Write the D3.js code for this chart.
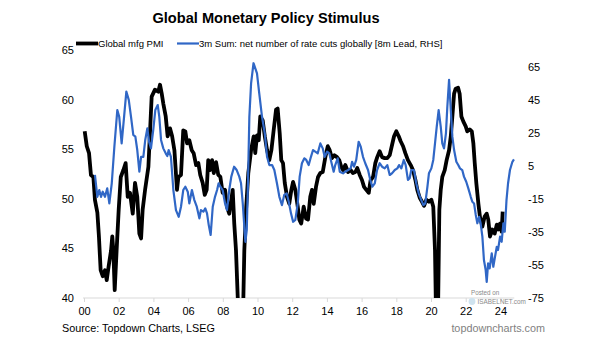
<!DOCTYPE html>
<html>
<head>
<meta charset="utf-8">
<script src="https://cdn.jsdelivr.net/npm/d3@7"></script>
<style>
  body { margin: 0; background: #fff; font-family: Arial, "Liberation Sans", sans-serif; }
  .title { font-size: 14.6px; font-weight: bold; }
  .tick-label { font-size: 11px; fill: #000; }
  .legend-text { font-size: 9.5px; }
  .source { font-size: 10.8px; }
  .site { font-size: 10.8px; fill: #7f7f7f; }
</style>
</head>
<body>
<script>
//Chart values
const pmiDates = [2000.04, 2000.16, 2000.29, 2000.40, 2000.54, 2000.63, 2000.77, 2000.86, 2000.96, 2001.08,
  2001.21, 2001.31, 2001.42, 2001.56, 2001.63, 2001.69, 2001.77, 2001.88, 2002.00, 2002.12,
  2002.27, 2002.40, 2002.52, 2002.65, 2002.81, 2002.94, 2003.07, 2003.19, 2003.29, 2003.38,
  2003.52, 2003.71, 2003.90, 2004.09, 2004.28, 2004.38, 2004.48, 2004.57, 2004.71, 2004.82,
  2004.96, 2005.08, 2005.21, 2005.36, 2005.44, 2005.59, 2005.72, 2005.84, 2005.94, 2006.07,
  2006.21, 2006.32, 2006.46, 2006.59, 2006.70, 2006.84, 2006.96, 2007.07, 2007.16, 2007.26,
  2007.38, 2007.48, 2007.61, 2007.74, 2007.86, 2007.99, 2008.13, 2008.24, 2008.37, 2008.49,
  2008.57, 2008.66, 2008.76, 2008.86, 2008.96, 2009.05, 2009.15, 2009.24, 2009.34, 2009.47,
  2009.63, 2009.78, 2009.87, 2009.97, 2010.07, 2010.16, 2010.30, 2010.42, 2010.55, 2010.68,
  2010.80, 2010.93, 2011.07, 2011.16, 2011.28, 2011.37, 2011.47, 2011.57, 2011.70, 2011.83,
  2011.95, 2012.05, 2012.18, 2012.32, 2012.41, 2012.52, 2012.66, 2012.80, 2012.91, 2013.04,
  2013.14, 2013.24, 2013.37, 2013.49, 2013.62, 2013.76, 2013.91, 2014.05, 2014.16, 2014.29,
  2014.43, 2014.58, 2014.71, 2014.83, 2014.93, 2015.06, 2015.22, 2015.37, 2015.50, 2015.64,
  2015.75, 2015.89, 2016.02, 2016.14, 2016.27, 2016.41, 2016.52, 2016.66, 2016.79, 2016.90,
  2017.04, 2017.18, 2017.33, 2017.48, 2017.62, 2017.75, 2017.87, 2018.00, 2018.14, 2018.25,
  2018.39, 2018.52, 2018.67, 2018.83, 2018.96, 2019.10, 2019.21, 2019.35, 2019.48, 2019.60,
  2019.73, 2019.88, 2020.02, 2020.13, 2020.23, 2020.31, 2020.40, 2020.48, 2020.56, 2020.65,
  2020.79, 2020.90, 2021.04, 2021.14, 2021.23, 2021.33, 2021.42, 2021.56, 2021.65, 2021.75,
  2021.86, 2022.00, 2022.09, 2022.23, 2022.35, 2022.44, 2022.52, 2022.61, 2022.73, 2022.82,
  2022.96, 2023.09, 2023.21, 2023.30, 2023.40, 2023.53, 2023.67, 2023.79, 2023.88, 2023.98,
  2024.07, 2024.13];
const pmiValues = [56.8, 55.3, 54.6, 52.4, 52.2, 49.9, 48.6, 46.2, 42.8, 42.2,
  42.8, 41.8, 43.2, 44.8, 46.2, 44.8, 40.8, 44.8, 48.9, 52.2,
  52.9, 53.6, 50.2, 50.6, 48.5, 51.6, 50.2, 46.5, 46.0, 48.9,
  50.9, 53.2, 60.3, 61.0, 60.8, 61.5, 60.6, 59.6, 58.3, 56.3,
  57.1, 56.3, 54.9, 50.9, 52.2, 52.4, 56.9, 56.8, 55.6, 55.9,
  54.9, 54.6, 53.4, 53.6, 52.4, 51.6, 50.4, 50.9, 53.9, 52.9,
  53.9, 52.6, 53.7, 52.4, 52.2, 50.6, 50.9, 49.2, 48.5, 49.9,
  50.9, 47.5, 44.8, 40.1, 35.0, 34.5, 37.0, 44.8, 48.9, 52.6,
  54.9, 56.3, 54.6, 56.4, 55.9, 58.3, 57.9, 56.3, 54.9, 53.9,
  54.9, 56.9, 59.0, 59.1, 56.6, 53.9, 53.6, 51.6, 50.2, 49.5,
  50.9, 51.7, 50.9, 49.2, 47.9, 47.5, 49.2, 48.0, 47.9, 50.2,
  50.9, 49.5, 51.2, 52.2, 52.6, 52.7, 54.2, 55.3, 54.9, 54.1,
  54.4, 54.2, 53.9, 53.2, 52.9, 53.4, 52.7, 52.9, 52.6, 52.7,
  53.1, 52.4, 51.9, 51.2, 50.9, 50.6, 51.9, 52.2, 53.6, 54.2,
  54.8, 54.2, 54.1, 54.1, 54.4, 55.4, 56.3, 56.8, 56.3, 55.8,
  55.3, 54.6, 53.9, 53.4, 52.9, 51.9, 50.9, 50.1, 49.7, 49.3,
  49.9, 49.7, 49.9, 49.2, 44.8, 36.0, 38.0, 48.9, 50.9, 52.2,
  52.9, 53.9, 54.9, 56.3, 58.3, 60.6, 61.1, 61.2, 60.6, 58.3,
  57.8, 57.3, 56.8, 57.0, 56.8, 55.6, 53.6, 51.6, 49.5, 48.2,
  47.2, 48.2, 48.5, 47.9, 46.2, 46.9, 46.5, 47.4, 46.9, 47.5,
  46.7, 48.7];

const cutsDates = [2000.63, 2000.77, 2000.88, 2000.98, 2001.08, 2001.21, 2001.34, 2001.46, 2001.60, 2001.75,
  2001.92, 2002.03, 2002.17, 2002.31, 2002.44, 2002.58, 2002.71, 2002.84, 2002.96, 2003.07,
  2003.19, 2003.29, 2003.42, 2003.53, 2003.65, 2003.75, 2003.86, 2003.99, 2004.11, 2004.25,
  2004.34, 2004.44, 2004.57, 2004.71, 2004.80, 2004.88, 2005.01, 2005.15, 2005.30, 2005.46,
  2005.59, 2005.72, 2005.84, 2005.98, 2006.07, 2006.22, 2006.36, 2006.50, 2006.65, 2006.74,
  2006.88, 2006.99, 2007.09, 2007.19, 2007.30, 2007.42, 2007.55, 2007.67, 2007.76, 2007.86,
  2007.99, 2008.13, 2008.24, 2008.37, 2008.49, 2008.65, 2008.80, 2008.95, 2009.05, 2009.15,
  2009.24, 2009.30, 2009.38, 2009.45, 2009.53, 2009.63, 2009.77, 2009.97, 2010.10, 2010.26,
  2010.42, 2010.55, 2010.68, 2010.84, 2010.97, 2011.12, 2011.26, 2011.41, 2011.54, 2011.68,
  2011.80, 2011.93, 2012.05, 2012.18, 2012.32, 2012.43, 2012.56, 2012.70, 2012.81, 2012.95,
  2013.08, 2013.20, 2013.33, 2013.47, 2013.62, 2013.76, 2013.87, 2014.01, 2014.14, 2014.25,
  2014.39, 2014.48, 2014.62, 2014.74, 2014.83, 2014.93, 2015.06, 2015.22, 2015.37, 2015.45,
  2015.56, 2015.69, 2015.83, 2015.95, 2016.08, 2016.21, 2016.37, 2016.50, 2016.62, 2016.76,
  2016.89, 2017.04, 2017.18, 2017.33, 2017.48, 2017.62, 2017.75, 2017.91, 2018.06, 2018.16,
  2018.29, 2018.43, 2018.54, 2018.67, 2018.77, 2018.86, 2019.02, 2019.15, 2019.29, 2019.44,
  2019.56, 2019.67, 2019.79, 2019.88, 2020.02, 2020.13, 2020.23, 2020.33, 2020.44, 2020.56,
  2020.65, 2020.75, 2020.86, 2020.94, 2021.04, 2021.14, 2021.23, 2021.33, 2021.46, 2021.57,
  2021.67, 2021.80, 2021.90, 2022.03, 2022.15, 2022.29, 2022.38, 2022.48, 2022.58, 2022.67,
  2022.77, 2022.86, 2022.96, 2023.05, 2023.15, 2023.21, 2023.29, 2023.38, 2023.50, 2023.59,
  2023.69, 2023.79, 2023.86, 2023.98, 2024.07, 2024.17, 2024.25, 2024.35, 2024.44, 2024.55,
  2024.69, 2024.78];
const cutsValues = [-0.6, -13.8, -9.7, -13.8, -10.7, -13.8, -8.7, -17.8, -5.6, 16.5,
  38.7, 34.6, 18.5, 34.6, 49.8, 44.8, 34.6, 23.6, 22.6, 14.5,
  1.4, 10.4, 10.4, 20.6, 27.6, 19.5, 15.5, 26.6, 38.7, 41.7,
  34.6, 20.6, 15.5, 12.5, 10.9, 14.5, 10.4, -9.7, -21.8, -25.9,
  -19.8, -9.7, -7.7, -10.7, -17.8, -9.7, -15.8, -19.8, -26.8, -21.8,
  -22.8, -20.8, -23.8, -30.9, -36.9, -19.8, -13.8, -9.7, -5.6, -7.7,
  -9.7, -17.8, -21.8, -9.7, -1.6, 4.4, 2.4, -1.6, -5.6, -17.8,
  -31.9, -41.0, -33.9, -5.6, 34.6, 54.8, 67.0, 60.9, 48.8, 34.6,
  24.6, 10.4, 5.4, 5.4, 2.4, -5.6, -13.8, -18.8, -12.7, -11.7,
  -16.8, -23.8, -28.9, -27.8, -17.8, -1.6, 6.5, 9.5, 8.5, 5.4,
  10.4, 14.5, 13.5, 12.5, 18.5, 15.5, 10.4, 13.5, 12.5, 7.4,
  1.4, 5.4, 9.5, 1.4, 0.9, 0.4, 1.4, 2.4, 3.4, 7.4,
  4.4, 8.5, 19.5, 16.5, 10.4, 6.5, 2.4, -3.6, -7.7, -5.6,
  2.4, 6.5, 4.4, 3.4, 5.4, -0.6, 0.4, 2.4, 3.4, 5.4,
  3.4, 8.5, 5.4, -3.6, -2.6, 2.4, 2.4, -5.6, -11.7, -15.8,
  -18.8, -17.8, -8.0, 0.4, 3.4, 8.5, 18.5, 28.6, 38.7, 28.6,
  18.5, 15.5, 24.6, 40.7, 56.9, 38.7, 22.6, 14.5, 7.4, 5.4,
  3.4, 2.4, -1.6, -4.7, -8.7, -13.8, -16.8, -17.8, -24.8, -29.8,
  -25.9, -29.8, -37.9, -52.0, -58.1, -65.2, -54.0, -57.1, -48.0, -56.1,
  -50.0, -44.0, -46.0, -37.9, -41.0, -29.8, -34.9, -15.8, -5.6, 2.4,
  7.4, 8.8];

const leftTicks = [40, 45, 50, 55, 60, 65];
const rightTicks = [-75, -55, -35, -15, 5, 25, 45, 65];
const yearTicks = [2000, 2002, 2004, 2006, 2008, 2010, 2012, 2014, 2016, 2018, 2020, 2022, 2024];

const width = 605;
const height = 341;
const plotTop = 50, plotBottom = 298, plotLeft = 84, plotRight = 514.3;

const pmi = pmiDates.map((d, i) => ({ t: d, v: pmiValues[i] }));
const cuts = cutsDates.map((d, i) => ({ t: d, v: cutsValues[i] }));

const svg = d3.select("body").append("svg")
    .attr("width", width)
    .attr("height", height);

//Scales
const x = d3.scaleLinear().domain([2000, 2024.8]).range([plotLeft, plotRight]);
const yLeft = d3.scaleLinear().domain([40, 65]).range([plotBottom, plotTop]);
const yRight = d3.scaleLinear().domain([-75, 75]).range([plotBottom, plotTop]);

//Title
svg.append("text")
    .attr("class", "title")
    .attr("x", 266)
    .attr("y", 23)
    .attr("text-anchor", "middle")
    .text("Global Monetary Policy Stimulus");

//Left axis labels
svg.append("g")
    .attr("transform", `translate(${plotLeft - 10},0)`)
    .call(d3.axisLeft(yLeft).tickValues(leftTicks).tickSize(0).tickPadding(0))
    .call(g => g.select(".domain").remove())
    .selectAll("text").attr("class", "tick-label").attr("font-family", null).attr("font-size", null);

//Right axis labels
svg.append("g")
    .attr("transform", `translate(528,0)`)
    .call(d3.axisRight(yRight).tickValues(rightTicks).tickSize(0).tickPadding(0)
        .tickFormat(d => String(d)))
    .call(g => g.select(".domain").remove())
    .selectAll("text").attr("class", "tick-label").attr("font-family", null).attr("font-size", null);

//X axis
const xAxis = svg.append("g")
    .attr("transform", `translate(0,${plotBottom})`)
    .call(d3.axisBottom(x).tickValues(yearTicks).tickSize(4).tickPadding(5)
        .tickFormat(d => String(d % 100).padStart(2, "0")));
xAxis.select(".domain").attr("stroke", "#d9d9d9").attr("d", `M${plotLeft - 1},0H${plotRight}`);
xAxis.selectAll(".tick line").attr("stroke", "#d9d9d9");
xAxis.selectAll("text").attr("class", "tick-label").attr("font-family", null).attr("font-size", null);

//Clip for lines
svg.append("clipPath").attr("id", "plotclip")
    .append("rect")
    .attr("x", plotLeft - 5).attr("y", plotTop - 5)
    .attr("width", plotRight - plotLeft + 10).attr("height", plotBottom - plotTop + 5);

const lines = svg.append("g").attr("clip-path", "url(#plotclip)");

lines.append("path")
    .datum(pmi)
    .attr("fill", "none")
    .attr("stroke", "#000")
    .attr("stroke-width", 3.8)
    .attr("stroke-linejoin", "round")
    .attr("d", d3.line().x(d => x(d.t)).y(d => yLeft(d.v)));

lines.append("path")
    .datum(cuts)
    .attr("fill", "none")
    .attr("stroke", "#3067c6")
    .attr("stroke-width", 2.2)
    .attr("stroke-linejoin", "round")
    .attr("d", d3.line().x(d => x(d.t)).y(d => yRight(d.v)));

//Legend
const legend = svg.append("g").attr("transform", "translate(0,43.5)");
legend.append("line").attr("x1", 76).attr("x2", 98).attr("stroke", "#000").attr("stroke-width", 3.8);
legend.append("text").attr("class", "legend-text").attr("x", 98).attr("y", 3.5).text("Global mfg PMI");
legend.append("line").attr("x1", 177).attr("x2", 199).attr("stroke", "#3067c6").attr("stroke-width", 2.2);
legend.append("text").attr("class", "legend-text").attr("x", 199).attr("y", 3.5)
    .text("3m Sum: net number of rate cuts globally [8m Lead, RHS]");

//Source & site
svg.append("text").attr("class", "source").attr("x", 62).attr("y", 332)
    .text("Source: Topdown Charts, LSEG");
svg.append("text").attr("class", "site").attr("x", 545).attr("y", 332)
    .attr("text-anchor", "end")
    .text("topdowncharts.com");

//Watermark
svg.append("text").attr("x", 471).attr("y", 294.5).attr("font-size", 6.3).attr("fill", "#8a8a8a")
    .text("Posted on");
svg.append("circle").attr("cx", 472).attr("cy", 301.5).attr("r", 3.4).attr("fill", "#cfe3ef");
svg.append("text").attr("x", 477.5).attr("y", 304).attr("font-size", 6.4).attr("fill", "#8a8a8a")
    .text("ISABELNET.com");
</script>
</body>
</html>
